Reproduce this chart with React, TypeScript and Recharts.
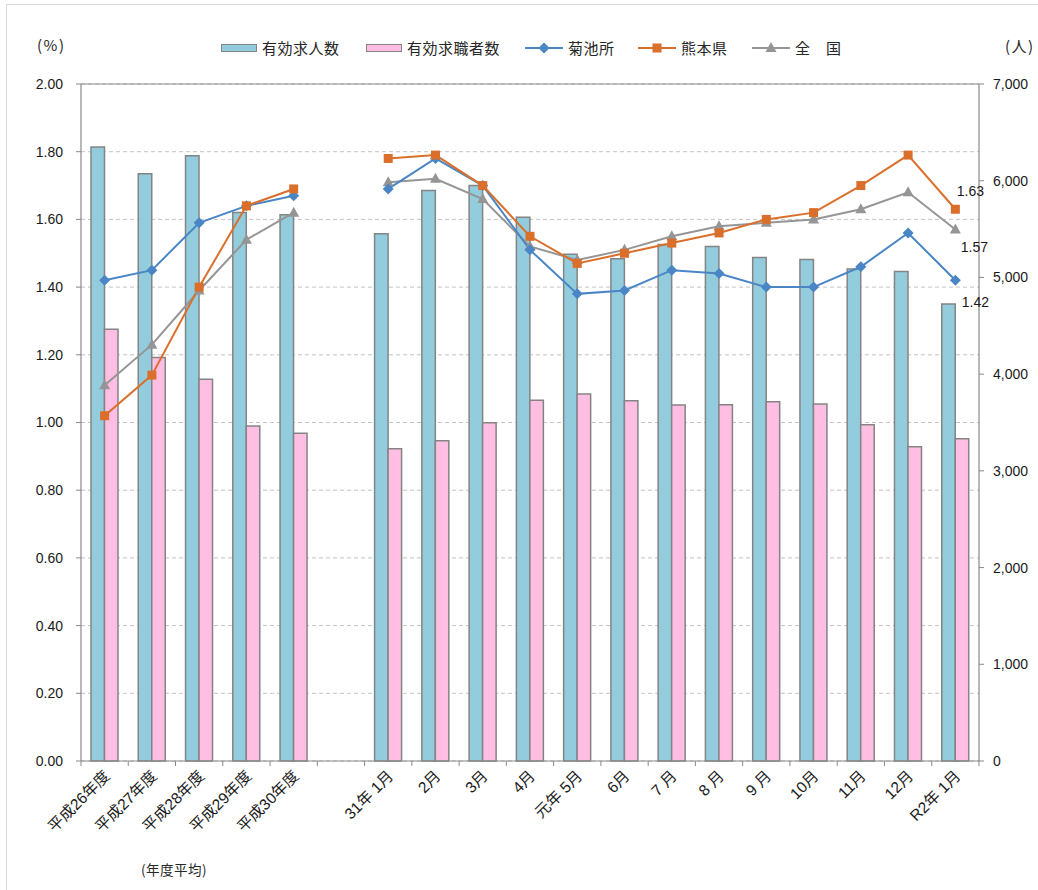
import React from 'react';
import { ComposedChart, Bar, Line, XAxis, YAxis, CartesianGrid, ReferenceLine, LabelList } from 'recharts';

const categories = ['平成26年度', '平成27年度', '平成28年度', '平成29年度', '平成30年度', '', '31年 1月', '2月', '3月', '4月', '元年 5月', '6月', '7 月', '8 月', '9 月', '10月', '11月', '12月', 'R2年 1月'];
const jobOffers = [6348, 6072, 6258, 5671, 5647, null, 5451, 5899, 5951, 5623, 5240, 5192, 5340, 5319, 5206, 5185, 5088, 5061, 4726];
const jobSeekers = [4464, 4171, 3947, 3464, 3388, null, 3229, 3312, 3498, 3730, 3795, 3726, 3681, 3684, 3715, 3691, 3477, 3250, 3332];
const kikuchi = [1.42, 1.45, 1.59, 1.64, 1.67, null, 1.69, 1.78, 1.70, 1.51, 1.38, 1.39, 1.45, 1.44, 1.40, 1.40, 1.46, 1.56, 1.42];
const kumamoto = [1.02, 1.14, 1.40, 1.64, 1.69, null, 1.78, 1.79, 1.70, 1.55, 1.47, 1.50, 1.53, 1.56, 1.60, 1.62, 1.70, 1.79, 1.63];
const national = [1.11, 1.23, 1.39, 1.54, 1.62, null, 1.71, 1.72, 1.66, 1.52, 1.48, 1.51, 1.55, 1.58, 1.59, 1.60, 1.63, 1.68, 1.57];
const leftTicks = [0, 0.2, 0.4, 0.6, 0.8, 1.0, 1.2, 1.4, 1.6, 1.8, 2.0];
const rightTicks = [0, 1000, 2000, 3000, 4000, 5000, 6000, 7000];
const seriesNames = ['有効求人数', '有効求職者数', '菊池所', '熊本県', '全　国'];

const data = categories.map((name, i) => ({
  name,
  offers: jobOffers[i],
  seekers: jobSeekers[i],
  kikuchi: kikuchi[i],
  kumamoto: kumamoto[i],
  national: national[i],
}));

const W = 1038;
const H = 890;
const LEFT_W = 81;
const RIGHT_W = 59;
const TOP = 84;
const XAXIS_H = 80;
const BOTTOM = H - TOP - XAXIS_H - 676 - 1;
const HALF_BAND = (W - LEFT_W - RIGHT_W) / categories.length / 2;

const C_BLUE_BAR = '#93CDDD';
const C_PINK_BAR = '#FFBEE2';
const C_BAR_STROKE = '#848484';
const C_KIKUCHI = '#4A86C5';
const C_KUMAMOTO = '#DA6F2B';
const C_NATIONAL = '#959595';
const AXIS = '#898989';
const FONT = "'Liberation Sans', 'Noto Sans CJK JP', sans-serif";
const JFONT = "'Noto Sans CJK JP', sans-serif";

const Diamond = ({ cx, cy, fill }: any) => (
  <polygon points={`${cx},${cy - 5.5} ${cx + 5.5},${cy} ${cx},${cy + 5.5} ${cx - 5.5},${cy}`} fill={fill} />
);
const Square = ({ cx, cy, fill }: any) => <rect x={cx - 4.5} y={cy - 4.5} width={9} height={9} fill={fill} />;
const Triangle = ({ cx, cy, fill }: any) => (
  <polygon points={`${cx},${cy - 6} ${cx + 5.5},${cy + 4} ${cx - 5.5},${cy + 4}`} fill={fill} />
);

const makeDot = (Shape: any, fill: string) => (props: any) => {
  const { cx, cy, index } = props;
  if (cx == null || cy == null || props.value == null) return <g key={`d${index}`} />;
  return <Shape key={`d${index}`} cx={cx} cy={cy} fill={fill} />;
};

const makeLastLabel = (dx: number, dy: number) => (props: any) => {
  const { x, y, value, index } = props;
  if (index !== categories.length - 1 || value == null) return null;
  return (
    <text x={x + dx} y={y + dy} textAnchor="middle" dominantBaseline="central" fontSize={14} fontFamily={FONT} fill="#1a1a1a">
      {Number(value).toFixed(2)}
    </text>
  );
};

const XTick = (props: any) => {
  const { x, y, payload, index } = props;
  const label = payload.value as string;
  const ax = x + 6;
  const ay = y + 16;
  return (
    <g>
      <line x1={x - HALF_BAND} x2={x - HALF_BAND} y1={y} y2={y + 5} stroke={AXIS} strokeWidth={1} />
      {index === categories.length - 1 && (
        <line x1={x + HALF_BAND} x2={x + HALF_BAND} y1={y} y2={y + 5} stroke={AXIS} strokeWidth={1} />
      )}
      {label && (
        <text x={ax} y={ay} transform={`rotate(-45, ${ax}, ${ay})`} textAnchor="end" fontSize={15.5} fontFamily={FONT} fill="#1a1a1a">
          {label}
        </text>
      )}
    </g>
  );
};

const LegendItem = ({ left, kind, color, text, Shape }: any) => (
  <div style={{ position: 'absolute', left, top: 38, height: 20, display: 'flex', alignItems: 'center' }}>
    {kind === 'bar' ? (
      <div style={{ width: 34, height: 6, background: color, border: `1.5px solid ${C_BAR_STROKE}` }} />
    ) : (
      <svg width={38} height={14}>
        <line x1={0} x2={38} y1={7} y2={7} stroke={color} strokeWidth={2} />
        <Shape cx={19} cy={7} fill={color} />
      </svg>
    )}
    <span style={{ marginLeft: 5, fontSize: 15, fontFamily: JFONT, color: '#262626', lineHeight: '20px', letterSpacing: 0.5 }}>{text}</span>
  </div>
);

export default function App() {
  return (
    <div style={{ position: 'absolute', left: 0, top: 0, width: W, height: H, background: '#fff', overflow: 'hidden' }}>
      <div style={{ position: 'absolute', left: 6, top: 4, width: W, height: H, border: '1px solid #d9d9d9' }} />
      <div style={{ position: 'absolute', left: 37, top: 34, fontSize: 15, fontFamily: JFONT, color: '#262626', letterSpacing: 1.5 }}>(%)</div>
      <div style={{ position: 'absolute', left: 1005, top: 35, fontSize: 15, fontFamily: JFONT, color: '#262626', letterSpacing: 1.5 }}>(人)</div>
      <div style={{ position: 'absolute', left: 141, top: 859, fontSize: 13.5, fontFamily: JFONT, color: '#262626', letterSpacing: 0.5 }}>(年度平均)</div>
      <LegendItem left={221} kind="bar" color={C_BLUE_BAR} text={seriesNames[0]} />
      <LegendItem left={366} kind="bar" color={C_PINK_BAR} text={seriesNames[1]} />
      <LegendItem left={525} kind="line" color={C_KIKUCHI} text={seriesNames[2]} Shape={Diamond} />
      <LegendItem left={638} kind="line" color={C_KUMAMOTO} text={seriesNames[3]} Shape={Square} />
      <LegendItem left={752} kind="line" color={C_NATIONAL} text={seriesNames[4]} Shape={Triangle} />
      <div style={{ position: 'absolute', left: 0, top: 0 }}>
        <ComposedChart
          width={W}
          height={H}
          data={data}
          margin={{ top: TOP, right: 0, bottom: BOTTOM, left: 0 }}
          barGap={0}
        >
          <CartesianGrid yAxisId="left" vertical={false} stroke="#c3c3c3" strokeDasharray="4 3" />
          <XAxis
            dataKey="name"
            interval={0}
            height={XAXIS_H}
            tickLine={false}
            tickSize={0}
            tickMargin={0}
            tick={<XTick />}
            axisLine={{ stroke: AXIS, strokeWidth: 1.2 }}
          />
          <YAxis
            yAxisId="left"
            orientation="left"
            width={LEFT_W}
            domain={[0, 2]}
            ticks={leftTicks}
            interval={0}
            tickFormatter={(v: number) => v.toFixed(2)}
            tickSize={5}
            tickMargin={13}
            tick={{ fontSize: 14, fontFamily: FONT, fill: '#1a1a1a' }}
            axisLine={{ stroke: AXIS, strokeWidth: 1.2 }}
            tickLine={{ stroke: AXIS }}
          />
          <YAxis
            yAxisId="right"
            orientation="right"
            width={RIGHT_W}
            domain={[0, 7000]}
            ticks={rightTicks}
            interval={0}
            tickFormatter={(v: number) => v.toLocaleString('en-US')}
            tickSize={5}
            tickMargin={9}
            tick={{ fontSize: 14, fontFamily: FONT, fill: '#1a1a1a' }}
            axisLine={{ stroke: AXIS, strokeWidth: 1.2 }}
            tickLine={{ stroke: AXIS }}
          />
          <ReferenceLine yAxisId="left" y={2} stroke={AXIS} strokeWidth={1.2} />
          <Bar yAxisId="right" dataKey="offers" name={seriesNames[0]} barSize={13.5} fill={C_BLUE_BAR} stroke={C_BAR_STROKE} strokeWidth={1.5} isAnimationActive={false} />
          <Bar yAxisId="right" dataKey="seekers" name={seriesNames[1]} barSize={13.5} fill={C_PINK_BAR} stroke={C_BAR_STROKE} strokeWidth={1.5} isAnimationActive={false} />
          <Line yAxisId="left" dataKey="national" name={seriesNames[4]} stroke={C_NATIONAL} strokeWidth={2} dot={makeDot(Triangle, C_NATIONAL)} activeDot={false} isAnimationActive={false}>
            <LabelList dataKey="national" content={makeLastLabel(19, 17)} />
          </Line>
          <Line yAxisId="left" dataKey="kikuchi" name={seriesNames[2]} stroke={C_KIKUCHI} strokeWidth={2} dot={makeDot(Diamond, C_KIKUCHI)} activeDot={false} isAnimationActive={false}>
            <LabelList dataKey="kikuchi" content={makeLastLabel(20, 22)} />
          </Line>
          <Line yAxisId="left" dataKey="kumamoto" name={seriesNames[3]} stroke={C_KUMAMOTO} strokeWidth={2} dot={makeDot(Square, C_KUMAMOTO)} activeDot={false} isAnimationActive={false}>
            <LabelList dataKey="kumamoto" content={makeLastLabel(15, -18)} />
          </Line>
        </ComposedChart>
      </div>
    </div>
  );
}
